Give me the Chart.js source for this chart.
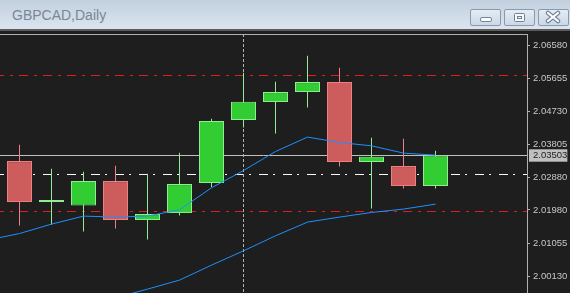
<!DOCTYPE html>
<html><head><meta charset="utf-8">
<script src="https://cdn.jsdelivr.net/npm/chart.js@4.4.1/dist/chart.umd.min.js"></script>
<style>
html,body{margin:0;padding:0;background:#1e1e1e;width:570px;height:293px;overflow:hidden;}
#bar{position:absolute;left:0;top:0;width:570px;height:29px;background:linear-gradient(#c2d0dd,#dae5f0);border-bottom:2px solid #5c5c5c;}
#ttl{position:absolute;left:12px;top:7px;font:14px "Liberation Sans",Arial,sans-serif;color:#7a8694;}
.btn{position:absolute;top:9px;width:31px;height:17px;box-sizing:border-box;border:1px solid #8a9aae;border-radius:2px;background:linear-gradient(#e4ecf4,#cbd8e5);}
.btn svg{position:absolute;left:0;top:0;}
#c{position:absolute;left:0;top:34px;}
</style></head>
<body>
<div id="bar"><div id="ttl">GBPCAD,Daily</div>
<div class="btn" style="left:470px"><svg width="29" height="15"><rect x="9.5" y="7.5" width="11" height="4" rx="1.5" fill="#fff" stroke="#74839a"/></svg></div>
<div class="btn" style="left:504px"><svg width="29" height="15"><rect x="9.5" y="3.5" width="10" height="8" rx="1" fill="#f6f8fb" stroke="#6f7e94"/><rect x="12.5" y="6.5" width="4" height="2" fill="none" stroke="#6f7e94"/></svg></div>
<div class="btn" style="left:538px"><svg width="29" height="15"><path d="M9,3 L19,11 M19,3 L9,11" stroke="#75849a" stroke-width="4.5" stroke-linecap="round"/><path d="M9,3 L19,11 M19,3 L9,11" stroke="#fff" stroke-width="2.2" stroke-linecap="round"/></svg></div>
</div>
<canvas id="c" width="570" height="259"></canvas>
<script>
// ---- data ----
const candleIdx = [0,1,2,3,4,5,6,7,8,9,10,11,12,13];
const opens  = [2.03346,2.02200,2.02104,2.02787,2.01696,2.01892,2.02731,2.04493,2.04997,2.05277,2.05556,2.03318,2.03207,2.02647];
const highs  = [2.03802,2.03131,2.03047,2.03215,2.02991,2.03579,2.04530,2.05816,2.05565,2.06292,2.05956,2.03998,2.03970,2.03635];
const lows   = [2.01545,2.01565,2.01377,2.01461,2.01153,2.01825,2.02619,2.04286,2.04118,2.04846,2.03195,2.02021,2.02580,2.02580];
const closes = [2.02200,2.02256,2.02787,2.01696,2.01864,2.02703,2.04465,2.05005,2.05277,2.05556,2.03318,2.03467,2.02647,2.03503];

const maFastIdx = [-1,0,1,2,3,4,5,6,7,8,9,10,11,12,13];
const maFast    = [2.01137,2.01321,2.01584,2.01808,2.01780,2.01808,2.01984,2.02600,2.03083,2.03615,2.04018,2.03867,2.03774,2.03570,2.03514];
const maSlowIdx = [2,3,4,5,6,7,8,9,10,11,12,13];
const maSlow    = [1.99327,1.99523,1.99766,2.00018,2.00437,2.00837,2.01257,2.01640,2.01780,2.01909,2.02004,2.02144];

const redLevels = [2.05741, 2.01937];
const whiteLevel = 2.02972;
const lastPrice = 2.03503;
const crossIdx = 7;

const yTickValues = [2.06580,2.05655,2.04730,2.03805,2.02880,2.01980,2.01055,2.00130];
const yMin = 1.996574, yMax = 2.069014;
const xMin = -0.609375, xMax = 15.859375;

// ---- colours ----
const BULL_BODY = '#32cd32', BULL_LINE = '#90ee90';
const BEAR_BODY = '#cd5c5c', BEAR_LINE = '#f08080';
const isBull = candleIdx.map(i => closes[i] >= opens[i]);

function hline(v, color, dash, order){
  return {type:'line', data:[{x:xMin,y:v},{x:xMax,y:v}], borderColor:color, borderWidth:1,
    borderDash:dash, borderDashOffset:5, pointRadius:0, order:order};
}

const datasets = [
  hline(redLevels[0], '#e01e1e', [9,6,3,6], 20),
  hline(redLevels[1], '#e01e1e', [9,6,3,6], 20),
  hline(whiteLevel, '#ffffff', [9,5,2,8], 20),
  hline(lastPrice, '#c0c0c0', [], 20),
  {type:'line', data:[{x:crossIdx,y:yMax},{x:crossIdx,y:yMin}], borderColor:'#b4b4b4', borderWidth:1,
    borderDash:[3,2], pointRadius:0, order:19},
  {type:'bar', data:candleIdx.map(i=>({x:i,y:[lows[i],highs[i]]})),
    backgroundColor:isBull.map(b=>b?BULL_LINE:BEAR_LINE), borderWidth:0,
    barThickness:1, maxBarThickness:1, grouped:false, inflateAmount:0, order:10},
  {type:'bar', data:candleIdx.map(i=>({x:i,y:[opens[i],closes[i]]})),
    backgroundColor:isBull.map(b=>b?BULL_BODY:BEAR_BODY),
    borderColor:isBull.map(b=>b?BULL_LINE:BEAR_LINE), borderWidth:1, borderSkipped:false,
    barThickness:25, maxBarThickness:25, grouped:false, inflateAmount:0, order:9},
  {type:'line', data:maFastIdx.map((x,k)=>({x:x,y:maFast[k]})), borderColor:'#1e90ff', borderWidth:1, pointRadius:0, order:1},
  {type:'line', data:maSlowIdx.map((x,k)=>({x:x,y:maSlow[k]})), borderColor:'#1e90ff', borderWidth:1, pointRadius:0, order:1}
];

const isPrice = c => c.tick && Math.abs(c.tick.value - lastPrice) < 1e-9;

new Chart(document.getElementById('c'), {
  type:'bar',
  data:{datasets},
  options:{
    responsive:false, animation:false, events:[], devicePixelRatio:1,
    layout:{padding:0},
    plugins:{legend:{display:false}, tooltip:{enabled:false}},
    scales:{
      x:{type:'linear', position:'top', min:xMin, max:xMax, bounds:'data', offset:false,
        ticks:{display:false}, grid:{display:false, drawTicks:false},
        border:{display:true, color:'#b0b0b0', width:1},
        afterFit:s=>{s.height=0; s.paddingLeft=0; s.paddingRight=0;}},
      y:{type:'linear', position:'right', min:yMin, max:yMax, bounds:'data', beginAtZero:false,
        border:{display:true, color:'#b0b0b0', width:1},
        grid:{drawOnChartArea:false, drawTicks:true, tickLength:3,
          color:c=>isPrice(c)?'rgba(0,0,0,0)':'#b0b0b0'},
        afterBuildTicks:s=>{ s.ticks = yTickValues.concat([lastPrice]).map(v=>({value:v})); },
        afterFit:s=>{s.width=43; s.paddingTop=0; s.paddingBottom=0;},
        ticks:{autoSkip:false, padding:3, font:{family:'"Liberation Sans", Arial, sans-serif', size:9.5},
          color:c=>isPrice(c)?'#1e1e1e':'#c8c8c8',
          showLabelBackdrop:c=>isPrice(c), backdropColor:'#c0c0c0',
          backdropPadding:{left:4,right:0,top:0.5,bottom:0.5},
          callback:v=>Number(v).toFixed(5)}}
    }
  }
});
</script>
</body></html>
